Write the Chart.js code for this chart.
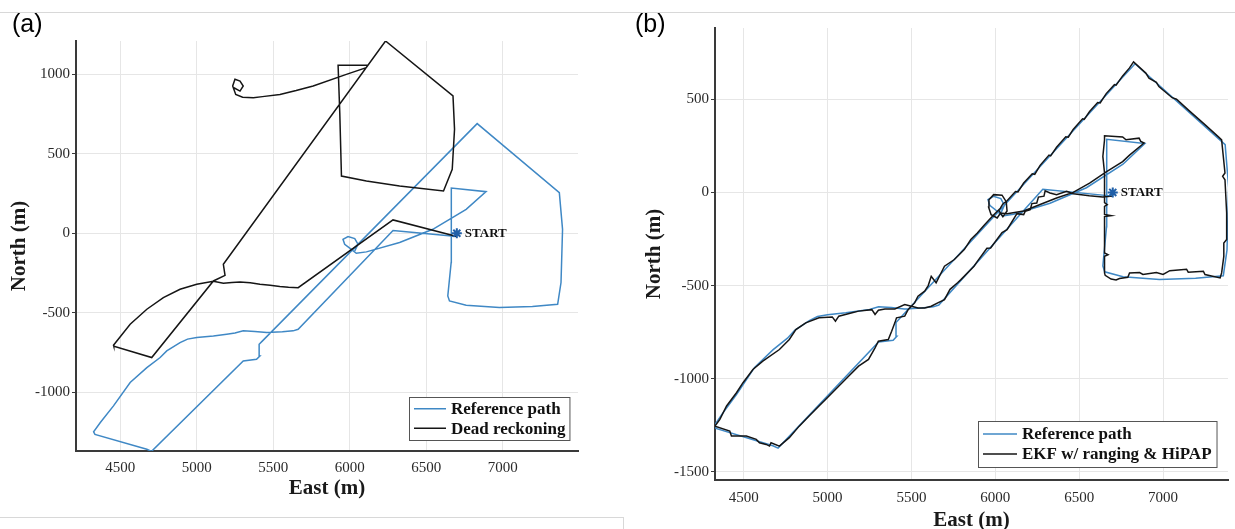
<!DOCTYPE html>
<html><head><meta charset="utf-8">
<script src="https://cdn.jsdelivr.net/npm/chart.js@4.4.1/dist/chart.umd.min.js"></script>
<style>
html,body{margin:0;padding:0;background:#fff;width:1235px;height:529px;overflow:hidden;position:relative;font-family:"Liberation Sans",Arial,sans-serif}
#wa{position:absolute;left:0;top:0;width:600px;height:503px}
#wb{position:absolute;left:620px;top:0;width:615px;height:533px}
.lbl{position:absolute;font-size:25px;color:#000;line-height:1}
.hl{position:absolute;background:#d8d8d8}
</style></head><body>
<div class="hl" style="left:0;top:12px;width:1235px;height:1px"></div>
<div class="hl" style="left:0;top:517px;width:624px;height:1px"></div>
<div class="hl" style="left:623px;top:517px;width:1px;height:12px"></div>
<div id="wa"><canvas id="ca"></canvas></div>
<div id="wb"><canvas id="cb"></canvas></div>
<div class="lbl" style="left:12px;top:11px">(a)</div>
<div class="lbl" style="left:635px;top:11px">(b)</div>
<script>
// ---- tick labels ----
const xTicks = [4500, 5000, 5500, 6000, 6500, 7000];
const yTicksA = [-1000, -500, 0, 500, 1000];
const yTicksB = [-1500, -1000, -500, 0, 500];

// ---- series names ----
const refName = 'Reference path';
const drName = 'Dead reckoning';
const ekfName = 'EKF w/ ranging & HiPAP';
const startText = 'START';

// ---- reference path (East, North in m) ----
const refEast = [6700, 6283, 5663, 5630, 5560, 5457, 5380, 5304, 5250, 5196, 5109, 5000, 4940, 4891, 4804, 4761, 4674, 4565, 4456, 4370, 4326, 4335,
  4674, 4705, 5304, 5391, 5413, 5408, 5430, 6833, 7370, 7391, 7381, 7359, 7194, 6978, 6761, 6652, 6641, 6663, 6663, 6665,
  6891, 6761, 6543, 6326, 6109, 6043, 6011, 5967, 5956, 5989, 6033, 6054, 6033];
const refNorth = [-20, 17, -604, -614, -620, -625, -618, -614, -628, -635, -646, -656, -666, -688, -740, -782, -845, -939, -1086, -1191, -1250, -1266,
  -1359, -1372, -803, -793, -772, -698, -677, 690, 256, 25, -310, -447, -461, -467, -453, -426, -394, -184, 109, 285,
  262, 151, 25, -58, -117, -126, -101, -69, -38, -21, -33, -69, -111];

// ---- dead reckoning (panel a) ----
const drEast = [6700, 6283, 5663, 5600, 5543, 5480, 5413, 5350, 5283, 5230, 5174, 5109, 5000, 4891, 4782, 4674, 4565, 4456, 4458,
  4706, 5109, 5185, 5174, 6234, 6675, 6685, 6670, 6613, 6326, 6109, 5946, 5935, 5924, 6119, 6108, 5978, 5761, 5650, 5544, 5430, 5370,
  5300, 5255, 5235, 5250, 5283, 5304, 5283, 5243];
const drNorth = [-20, 84, -342, -340, -335, -327, -321, -312, -306, -310, -315, -302, -321, -352, -405, -478, -572, -704, -711,
  -782, -300, -265, -195, 1210, 864, 654, 403, 266, 298, 329, 360, 759, 1057, 1057, 1042, 1000, 927, 898, 874, 860, 853,
  856, 874, 927, 969, 958, 927, 895, 916];

// ---- EKF w/ ranging & HiPAP (panel b) ----
const ekfEast = [6700, 6640, 6560, 6465, 6425, 6365, 6326, 6297, 6290, 6257, 6247, 6218, 6208, 6178, 6169, 6129, 6070, 6040, 5972, 5950,
  5893, 5873, 5795, 5775, 5730, 5697, 5657, 5618, 5579, 5539, 5500, 5460, 5401, 5342, 5303, 5283, 5264, 5185, 5146, 5067, 5047, 5028,
  4949, 4870, 4811, 4772, 4713, 4614, 4555, 4496, 4457, 4398, 4358, 4329,
  4417, 4427, 4516, 4575, 4594, 4634, 4654, 4663, 4713,
  4772, 4831, 4890, 4949, 4988, 5047, 5106, 5185, 5244, 5283, 5303, 5362, 5382, 5401, 5411, 5460, 5480, 5519, 5539, 5579, 5600, 5618,
  5647, 5697, 5756, 5815, 5854, 5893, 5932, 5991, 6030, 6045, 6070, 6120, 6135, 6169, 6220, 6235, 6267, 6320, 6330, 6365, 6420, 6435,
  6464, 6520, 6530, 6562, 6610, 6625, 6661, 6710, 6720, 6759, 6800, 6824,
  6897, 6916, 6960, 6975, 7054, 7080, 7153, 7251, 7330, 7349,
  7369, 7355, 7369, 7379, 7379, 7362, 7362, 7349, 7340,
  7250, 7240, 7150, 7140, 7040, 7000, 6960, 6880, 6860, 6800, 6790, 6740, 6720, 6690, 6655,
  6651, 6651, 6672, 6651, 6651, 6651, 6692, 6651, 6651, 6667, 6651, 6651, 6641, 6651, 6651,
  6759, 6779, 6857, 6867, 6887,
  6800, 6759, 6661, 6562, 6464, 6365, 6267, 6169, 6070, 6031,
  6011, 5975, 5960, 5962, 5990, 6040, 6065, 6070, 6045, 6020];
const ekfNorth = [-20, -25, -18, -7, 6, -12, -3, 8, -20, -25, -57, -60, -93, -102, -119, -114, -200, -215, -298, -300,
  -370, -396, -468, -485, -520, -575, -593, -611, -620, -620, -611, -602, -625, -625, -632, -655, -629, -637, -646, -664, -691, -668,
  -673, -700, -736, -789, -843, -905, -950, -1021, -1075, -1146, -1218, -1254,
  -1280, -1307, -1307, -1325, -1343, -1352, -1361, -1343, -1361,
  -1316, -1254, -1200, -1146, -1111, -1057, -1004, -932, -896, -834, -798, -789, -745, -700, -673, -664, -629, -593, -557, -530, -500, -450,
  -485, -396, -360, -307, -253, -218, -178, -120, -85, -62, -45, 5, 2, 50, 100, 97, 145, 200, 196, 242, 298, 296,
  338, 395, 392, 434, 482, 480, 530, 578, 575, 625, 668, 700,
  640, 613, 590, 568, 508, 500, 440, 362, 298, 282,
  104, 86, 68, -110, -253, -271, -343, -432, -459,
  -441, -423, -428, -412, -420, -440, -430, -440, -430, -432, -455, -462, -470, -465, -445,
  -432, -343, -334, -325, -253, -130, -125, -118, -75, -66, -55, 104, 193, 282, 304,
  297, 282, 291, 274, 265,
  200, 165, 110, 50, 0, -30, -65, -100, -115, -111,
  -137, -120, -80, -40, -12, -15, -50, -100, -130, -95];

const startEast = [6700];
const startNorth = [0];

const BLUE = '#3f88c5', BLACK = '#151515', STAR = '#1f5fa8';
const pts = (xs, ys) => xs.map((x, i) => ({x, y: ys[i]}));

const boxLegend = {
  id: 'boxLegend',
  afterDatasetsDraw(chart, args, o) {
    const ctx = chart.ctx, ca = chart.chartArea;
    ctx.save();
    ctx.font = 'bold 17px "Liberation Serif"';
    const items = chart.data.datasets.filter(d => d.inLegend);
    const tw = Math.max(...items.map(d => ctx.measureText(d.label).width));
    const w = o.padL + o.lineLen + o.gap + tw + o.padR;
    const h = o.padT * 2 + items.length * o.row;
    const x0 = Math.round(ca.right - o.mr - w), y0 = Math.round(ca.bottom - o.mb - h);
    ctx.fillStyle = '#fff'; ctx.fillRect(x0, y0, w, h);
    ctx.strokeStyle = '#555'; ctx.lineWidth = 1; ctx.strokeRect(x0 + 0.5, y0 + 0.5, w, h);
    items.forEach((d, i) => {
      const cy = y0 + o.padT + o.row * (i + 0.5);
      ctx.strokeStyle = d.borderColor; ctx.lineWidth = d.borderWidth;
      ctx.beginPath(); ctx.moveTo(x0 + o.padL, cy); ctx.lineTo(x0 + o.padL + o.lineLen, cy); ctx.stroke();
      ctx.fillStyle = '#111'; ctx.textBaseline = 'middle'; ctx.textAlign = 'left';
      ctx.fillText(d.label, x0 + o.padL + o.lineLen + o.gap, cy + 1);
    });
    const sd = chart.data.datasets.find(d => d.startMark);
    if (sd) {
      const px = chart.scales.x.getPixelForValue(sd.data[0].x), py = chart.scales.y.getPixelForValue(sd.data[0].y);
      ctx.font = 'bold 13px "Liberation Serif"'; ctx.fillStyle = '#111'; ctx.textBaseline = 'middle';
      ctx.fillText(sd.label, px + 8, py);
    }
    ctx.restore();
  }
};

function makeChart(id, other, otherName, cfg) {
  const serif = '"Liberation Serif", "DejaVu Serif", serif';
  return new Chart(document.getElementById(id), {
    type: 'scatter',
    data: {
      datasets: [
        {label: refName, data: pts(refEast, refNorth), showLine: true, borderColor: BLUE, borderWidth: 1.5, pointRadius: 0, tension: 0, order: 3, inLegend: true},
        {label: otherName, data: pts(other[0], other[1]), showLine: true, borderColor: BLACK, borderWidth: 1.5, pointRadius: 0, tension: 0, order: 2, inLegend: true},
        {label: startText, data: pts(startEast, startNorth), showLine: false, pointStyle: 'star', pointRadius: 5, borderColor: STAR, borderWidth: 2, order: 1, startMark: true}
      ]
    },
    options: {
      responsive: true, maintainAspectRatio: false, animation: false,
      layout: {padding: cfg.pad},
      plugins: {legend: {display: false}, tooltip: {enabled: false}, boxLegend: cfg.leg},
      scales: {
        x: {
          type: 'linear', min: cfg.xr[0], max: cfg.xr[1],
          afterBuildTicks: s => { s.ticks = xTicks.map(v => ({value: v})); },
          afterFit: s => { s.height = cfg.xh; },
          ticks: {callback: v => String(v), font: {family: serif, size: 15}, color: '#2a2a2a', padding: cfg.xpad, maxRotation: 0, autoSkip: false},
          grid: {color: '#e6e6e6', drawTicks: false},
          border: {display: true, color: '#3a3a3a', width: 2},
          title: {display: true, text: 'East (m)', font: {family: serif, size: 21, weight: 'bold'}, color: '#1a1a1a', padding: {top: 0, bottom: cfg.xtp}}
        },
        y: {
          type: 'linear', min: cfg.yr[0], max: cfg.yr[1],
          afterBuildTicks: s => { s.ticks = cfg.yt.map(v => ({value: v})); },
          afterFit: s => { s.width = cfg.yw; },
          ticks: {callback: v => String(v), font: {family: serif, size: 15}, color: '#2a2a2a', padding: 2, autoSkip: false},
          grid: {color: '#e6e6e6', drawTicks: true, tickLength: 4, tickColor: '#3a3a3a'},
          border: {display: true, color: '#3a3a3a', width: 2},
          title: {display: true, text: 'North (m)', font: {family: serif, size: 21, weight: 'bold'}, color: '#1a1a1a', padding: {top: cfg.ytp, bottom: 0}}
        }
      }
    },
    plugins: [boxLegend]
  });
}

makeChart('ca', [drEast, drNorth], drName, {
  pad: {top: 41, right: 22, left: 0, bottom: 0},
  xr: [4211, 7492], yr: [-1370, 1210], yt: yTicksA, xh: 52, yw: 76, xpad: 8, xtp: 2, ytp: 7,
  leg: {padL: 5, lineLen: 32, gap: 5, padR: 4, padT: 2, row: 19.5, mr: 9, mb: 11}
});
makeChart('cb', [ekfEast, ekfNorth], ekfName, {
  pad: {top: 28, right: 2, left: 0, bottom: 0},
  xr: [4329, 7387], yr: [-1543, 882], yt: yTicksB, xh: 53, yw: 95, xpad: 9, xtp: 0, ytp: 22,
  leg: {padL: 5, lineLen: 34, gap: 5, padR: 5, padT: 3, row: 20, mr: 11, mb: 13}
});
</script>
</body></html>
